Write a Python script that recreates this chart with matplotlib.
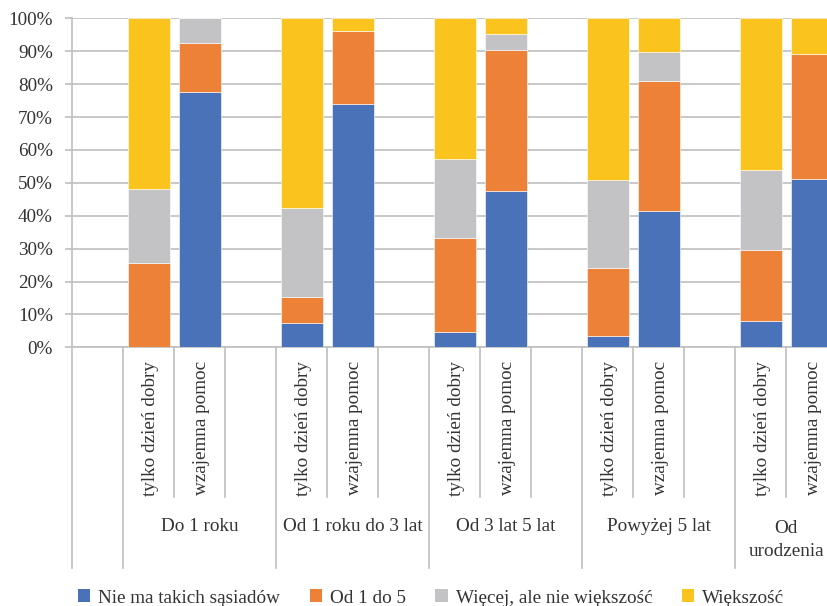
import matplotlib.pyplot as plt
from matplotlib.patches import Patch

plt.rcParams['font.family'] = ['Liberation Serif', 'DejaVu Serif']

# categories
groups = ['Do 1 roku', 'Od 1 roku do 3 lat', 'Od 3 lat 5 lat', 'Powyżej 5 lat', 'Od\nurodzenia']
kinds = ['tylko dzień dobry', 'wzajemna pomoc']

# shares (%) per bar, order: group 1 (tylko, wzajemna), group 2 (...), ...
nie_ma = [0.0, 77.7, 7.5, 74.0, 4.7, 47.5, 3.3, 41.5, 8.0, 51.2]
od_1_do_5 = [25.7, 14.9, 7.8, 22.2, 28.6, 42.9, 20.9, 39.4, 21.7, 37.9]
wiecej = [22.3, 7.4, 26.9, 0.0, 23.8, 4.7, 26.6, 8.9, 24.3, 0.0]
wiekszosc = [52.0, 0.0, 57.8, 3.8, 42.9, 4.9, 49.2, 10.2, 46.0, 10.9]

series_names = ['Nie ma takich sąsiadów', 'Od 1 do 5', 'Więcej, ale nie większość', 'Większość']
series = [nie_ma, od_1_do_5, wiecej, wiekszosc]
colors = ['#4a72b8', '#ed8137', '#c3c3c5', '#fbc31e']

TXT = '#333333'
LINE = '#bfbfbf'
FS = 13.8

W, H = 828, 606
fig = plt.figure(figsize=(W / 100, H / 100), dpi=100)
# plot box in pixel terms: left 72.3, top 18.3, 15 slots of 51 px, 329 px tall
ax = fig.add_axes([72.3 / W, (H - 347.3) / H, 765 / W, 329 / H])

# slot layout: empty slot, then 3 slots per group (2 bars + gap)
slots = [1 + 3 * g + k for g in range(len(groups)) for k in range(len(kinds))]
xs = [s + 0.5 for s in slots]

bottom = [0.0] * len(xs)
for vals, col in zip(series, colors):
    ax.bar(xs, vals, width=0.83, bottom=bottom, color=col, edgecolor='white',
           linewidth=0.4, zorder=3)
    bottom = [b + v for b, v in zip(bottom, vals)]

ax.set_xlim(0, 15)
ax.set_ylim(0, 100)
ax.set_yticks(range(0, 101, 10))
ax.set_yticklabels([f'{v}%' for v in range(0, 101, 10)], fontsize=FS, color=TXT)
ax.yaxis.grid(True, color=LINE, linewidth=1.2, zorder=0)
ax.tick_params(axis='y', length=5, width=1.2, color=LINE, pad=9)
ax.set_xticks([])
for side in ['top', 'right']:
    ax.spines[side].set_visible(False)
ax.spines['left'].set_color(LINE)
ax.spines['bottom'].set_color(LINE)
ax.spines['left'].set_linewidth(1.2)
ax.spines['bottom'].set_linewidth(1.2)

trans = ax.get_xaxis_transform()
y_inner = -(497 - 347.3) / 329
y_outer = -(568.3 - 347.3) / 329

# separators of the two-level category axis
group_edges = [0, 1] + [1 + 3 * (g + 1) for g in range(len(groups) - 1)]
for s in range(15):
    y_end = y_outer if s in group_edges else y_inner
    ax.plot([s, s], [0, y_end], color=LINE, linewidth=1.2, transform=trans,
            clip_on=False)

# bar labels (rotated)
for i, x in enumerate(xs):
    ax.text(x + 0.03, -(361 - 347.3) / 329, kinds[i % 2], rotation=90,
            ha='center', va='top', fontsize=FS, color=TXT, transform=trans)

# group labels
for g, name in enumerate(groups):
    center = 1 + 3 * g + (1.5 if g < len(groups) - 1 else 1.0)
    ypix = 540 if '\n' in name else 526.7
    ax.text(center, -(ypix - 347.3) / 329, name, ha='center', va='center',
            fontsize=FS, color=TXT, linespacing=1.45, transform=trans)

handles = [Patch(facecolor=c, edgecolor='none') for c in colors]
fig.legend(handles, series_names, loc='center', bbox_to_anchor=(431 / W, 1 - 598 / H),
           ncol=4, frameon=False, fontsize=FS, labelcolor=TXT,
           handlelength=0.65, handleheight=0.65, handletextpad=0.4,
           columnspacing=1.55, borderpad=0)

fig.savefig('out.png', dpi=100)
